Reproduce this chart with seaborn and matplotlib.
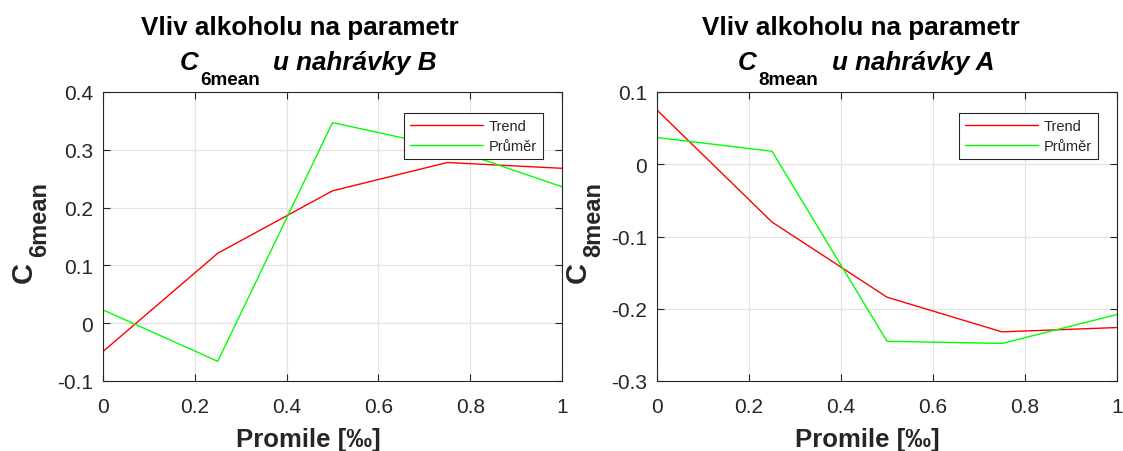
import matplotlib
matplotlib.use("Agg")
import matplotlib.pyplot as plt
from matplotlib.transforms import IdentityTransform
import seaborn as sns
import pandas as pd

# Blood alcohol levels (per mille)
promile = [0.0, 0.25, 0.5, 0.75, 1.0]

# Recording B, parameter C6mean
c6_trend = [-0.049, 0.121, 0.229, 0.278, 0.268]
c6_prumer = [0.023, -0.066, 0.347, 0.304, 0.236]

# Recording A, parameter C8mean
c8_trend = [0.075, -0.080, -0.184, -0.232, -0.226]
c8_prumer = [0.037, 0.018, -0.245, -0.248, -0.208]

series_names = ["Trend", "Průměr"]
x_ticks = [0, 0.2, 0.4, 0.6, 0.8, 1]
x_tick_labels = ["0", "0.2", "0.4", "0.6", "0.8", "1"]
y_ticks_c6 = [-0.1, 0, 0.1, 0.2, 0.3, 0.4]
y_tick_labels_c6 = ["-0.1", "0", "0.1", "0.2", "0.3", "0.4"]
y_ticks_c8 = [-0.3, -0.2, -0.1, 0, 0.1]
y_tick_labels_c8 = ["-0.3", "-0.2", "-0.1", "0", "0.1"]

sns.set_theme(style="ticks")
plt.rcParams["font.family"] = ["Liberation Sans", "DejaVu Sans"]
plt.rcParams["axes.unicode_minus"] = False

DARK = "#262626"
palette = {"Trend": "#ff0000", "Průměr": "#00ff00"}

W, H = 1123, 452
fig = plt.figure(figsize=(W / 100, H / 100), dpi=100)
renderer = fig.canvas.get_renderer()
PIX = IdentityTransform()  # display pixels, origin bottom-left


def long_frame(trend, prumer):
    return pd.DataFrame({
        "promile": promile * 2,
        "value": trend + prumer,
        "series": [series_names[0]] * len(promile) + [series_names[1]] * len(promile),
    })


def text_size(t):
    bb = t.get_window_extent(renderer)
    return bb.width, bb.height


def title_line(cx, base_y, sub, rec):
    """Second title line: italic C, lowered bold subscript, italic rest."""
    big = dict(fontsize=18.7, fontweight="bold", fontstyle="italic", color="black")
    t_c = fig.text(0, 0, "C", transform=PIX, ha="left", va="baseline", **big)
    t_s = fig.text(0, 0, sub, transform=PIX, ha="left", va="baseline",
                   fontsize=13.6, fontweight="bold", color="black")
    t_r = fig.text(0, 0, "u nahrávky " + rec, transform=PIX, ha="left",
                   va="baseline", **big)
    wc, ws, wr = text_size(t_c)[0], text_size(t_s)[0], text_size(t_r)[0]
    gap1, gap2 = 2, 13
    x0 = cx - (wc + gap1 + ws + gap2 + wr) / 2
    t_c.set_position((x0, base_y))
    t_s.set_position((x0 + wc + gap1, base_y - 15))
    t_r.set_position((x0 + wc + gap1 + ws + gap2, base_y))


def y_label(base_x, cy, sub):
    """Rotated axis label: bold C with a lowered bold subscript."""
    t_c = fig.text(0, 0, "C", transform=PIX, rotation=90, rotation_mode="anchor",
                   ha="left", va="baseline", fontsize=21, fontweight="bold", color=DARK)
    t_s = fig.text(0, 0, sub, transform=PIX, rotation=90, rotation_mode="anchor",
                   ha="left", va="baseline", fontsize=17, fontweight="bold", color=DARK)
    hc, hs = text_size(t_c)[1], text_size(t_s)[1]
    gap = 5
    y0 = cy - (hc + gap + hs) / 2
    t_c.set_position((base_x, y0))
    t_s.set_position((base_x + 14, y0 + hc + gap))


ax_left = fig.add_axes([103 / W, 1 - 382 / H, 459 / W, 289 / H])
ax_right = fig.add_axes([657 / W, 1 - 382 / H, 460 / W, 289 / H])

panels = [
    (ax_left, c6_trend, c6_prumer, (-0.1, 0.4), y_ticks_c6, y_tick_labels_c6, "6mean",
     "B", 300, 308, 308.5, 32),
    (ax_right, c8_trend, c8_prumer, (-0.3, 0.1), y_ticks_c8, y_tick_labels_c8, "8mean",
     "A", 861, 866, 867.5, 586),
]

for ax, trend, prumer, ylim, yt, ytl, sub, rec, t1x, t2x, xlx, ylx in panels:
    df = long_frame(trend, prumer)
    sns.lineplot(data=df, x="promile", y="value", hue="series", hue_order=series_names,
                 palette=palette, linewidth=1.0, ax=ax)
    ax.set_xlim(0, 1)
    ax.set_ylim(*ylim)
    ax.set_xticks(x_ticks)
    ax.set_xticklabels(x_tick_labels)
    ax.set_yticks(yt)
    ax.set_yticklabels(ytl)
    ax.grid(True, color="#e3e3e3", linewidth=0.9)
    ax.set_axisbelow(True)
    for sp in ax.spines.values():
        sp.set_visible(True)
        sp.set_color(DARK)
        sp.set_linewidth(0.8)
    ax.tick_params(direction="in", length=5, width=0.8, colors=DARK, labelsize=15,
                   top=True, right=True)
    ax.tick_params(axis="x", pad=11.5)
    ax.tick_params(axis="y", pad=7)
    ax.set_xlabel("")
    ax.set_ylabel("")

    leg = ax.legend(loc="upper right", bbox_to_anchor=(0.958, 0.927), borderaxespad=0,
                    fontsize=10.5, frameon=True, fancybox=False, handlelength=5.0,
                    handletextpad=0.4, labelspacing=0.4, borderpad=0.4)
    leg.get_frame().set_edgecolor(DARK)
    leg.get_frame().set_linewidth(0.8)
    leg.get_frame().set_alpha(1)
    for t in leg.get_texts():
        t.set_color(DARK)

    # axis labels
    fig.text(xlx, 5, "Promile [‰]", transform=PIX, ha="center", va="baseline",
             fontsize=18.5, fontweight="bold", color=DARK)
    y_label(ylx, H - 233, sub)

    # two-line title
    fig.text(t1x, H - 35, "Vliv alkoholu na parametr", transform=PIX, ha="center",
             va="baseline", fontsize=18.7, fontweight="bold", color="black")
    title_line(t2x, H - 70, sub, rec)

fig.savefig("out.png", dpi=100)
